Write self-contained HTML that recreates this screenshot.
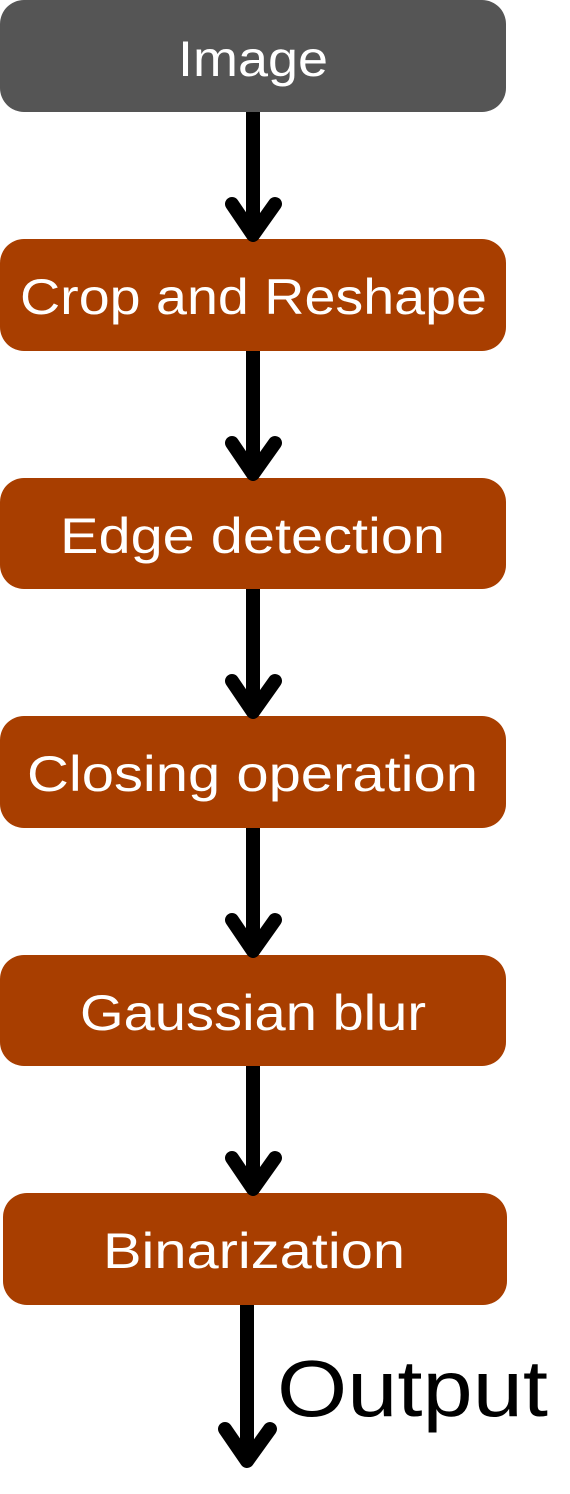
<!DOCTYPE html>
<html><head><meta charset="utf-8"><style>html,body{margin:0;padding:0;background:#fff}svg{display:block}</style></head>
<body>
<svg width="570" height="1494" viewBox="0 0 570 1494" xmlns="http://www.w3.org/2000/svg" font-family="Liberation Sans, DejaVu Sans, sans-serif">
<rect x="0" y="0" width="506" height="112" rx="24" fill="#555555"/>
<rect x="0" y="239" width="506" height="112" rx="24" fill="#A83E00"/>
<rect x="0" y="478" width="506" height="111" rx="24" fill="#A83E00"/>
<rect x="0" y="716" width="506" height="112" rx="24" fill="#A83E00"/>
<rect x="0" y="955" width="506" height="111" rx="24" fill="#A83E00"/>
<rect x="3" y="1193" width="504" height="112" rx="24" fill="#A83E00"/>
<g fill="#fff" font-size="50">
<text x="178" y="76" textLength="150" lengthAdjust="spacingAndGlyphs">Image</text>
<text x="20" y="314" textLength="467" lengthAdjust="spacingAndGlyphs">Crop and Reshape</text>
<text x="60" y="553" textLength="385" lengthAdjust="spacingAndGlyphs">Edge detection</text>
<text x="27" y="791" textLength="451" lengthAdjust="spacingAndGlyphs">Closing operation</text>
<text x="80" y="1030" textLength="346" lengthAdjust="spacingAndGlyphs">Gaussian blur</text>
<text x="103" y="1268" textLength="302" lengthAdjust="spacingAndGlyphs">Binarization</text>
</g>
<g stroke="#000" stroke-width="14" fill="none" stroke-linecap="round" stroke-linejoin="round">
<line x1="253" y1="112" x2="253" y2="234" stroke-linecap="butt"/><polyline points="232,204 253,235 275,204"/>
<line x1="253" y1="351" x2="253" y2="473" stroke-linecap="butt"/><polyline points="232,443 253,474 275,443"/>
<line x1="253" y1="589" x2="253" y2="711" stroke-linecap="butt"/><polyline points="232,681 253,712 275,681"/>
<line x1="253" y1="828" x2="253" y2="950" stroke-linecap="butt"/><polyline points="232,920 253,951 275,920"/>
<line x1="253" y1="1066" x2="253" y2="1188" stroke-linecap="butt"/><polyline points="232,1158 253,1189 275,1158"/>
<line x1="247" y1="1305" x2="247" y2="1460" stroke-linecap="butt"/><polyline points="225,1429 247,1461 270,1429"/>
</g>
<text x="277" y="1416" font-size="80" fill="#000" textLength="271" lengthAdjust="spacingAndGlyphs">Output</text>
</svg>
</body></html>
